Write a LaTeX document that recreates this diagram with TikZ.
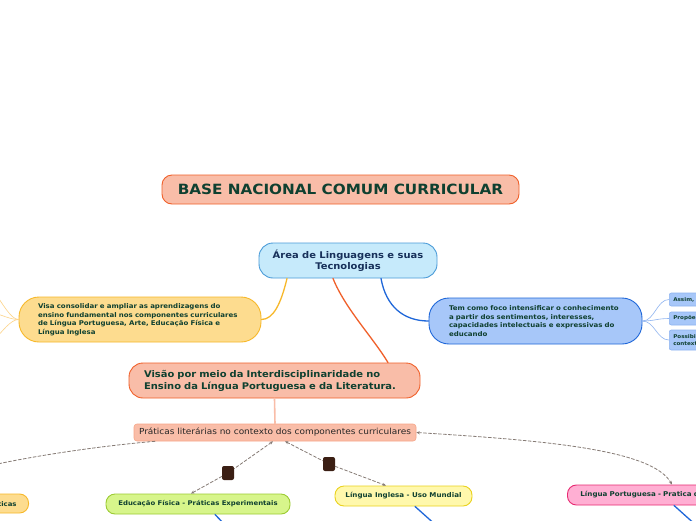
\documentclass[tikz,border=0pt]{standalone}
\usepackage{fontspec}
\setmainfont{DejaVu Sans}[FakeStretch=1.08]
\usetikzlibrary{arrows.meta,calc}

\definecolor{deep}{HTML}{0F4030}
\definecolor{navy}{HTML}{17305A}
\definecolor{salmonfill}{HTML}{F9BDA8}
\definecolor{salmonline}{HTML}{F0602A}
\definecolor{skyfill}{HTML}{C6EAFB}
\definecolor{skyline}{HTML}{4A9BD8}
\definecolor{goldfill}{HTML}{FDDC8F}
\definecolor{goldline}{HTML}{F7B82A}
\definecolor{goldtwig}{HTML}{FDD48A}
\definecolor{bluefill}{HTML}{A7C7F9}
\definecolor{blueline}{HTML}{1F67D9}
\definecolor{bluetwig}{HTML}{8FB4F0}
\definecolor{limefill}{HTML}{D7F58B}
\definecolor{limeline}{HTML}{9CCB33}
\definecolor{lemonfill}{HTML}{FFF8AC}
\definecolor{lemonline}{HTML}{EAD21E}
\definecolor{pinkfill}{HTML}{FFAFD3}
\definecolor{pinkline}{HTML}{E82A72}
\definecolor{linkgray}{HTML}{857A74}
\definecolor{knot}{HTML}{3B1F14}

\begin{document}
\begin{tikzpicture}[x=1pt,y=-1pt,>={Stealth[length=3.5pt,width=3pt]},line cap=round,line join=round,
  pill/.style={draw,line width=0.9pt,text=deep,inner sep=2pt},
  leaf/.style={pill,minimum height=20pt,rounded corners=9pt,font=\fontsize{6.4}{8}\selectfont\bfseries},
  tip/.style={draw=bluetwig,fill=bluefill,line width=0.6pt,rounded corners=2pt,text=deep,
    anchor=west,align=left,text width=40pt,inner xsep=4pt,font=\fontsize{5.2}{7}\selectfont\bfseries},
  branch/.style={line width=1.3pt},
  twig/.style={line width=0.6pt},
  link/.style={draw=linkgray,line width=0.8pt,dash pattern=on 3pt off 2pt},
  knotbox/.style={fill=knot,minimum width=12pt,minimum height=14pt,inner sep=0pt,rounded corners=2pt}]
\useasboundingbox[fill=white] (0,0) rectangle (696,520);

% main nodes
\node[pill,fill=salmonfill,draw=salmonline,minimum width=357pt,minimum height=29pt,rounded corners=10pt,
  font=\fontsize{14.1}{17}\selectfont\bfseries] (base) at (340.5,189.5) {BASE NACIONAL COMUM CURRICULAR};
\node[pill,fill=skyfill,draw=skyline,text=navy,minimum width=178pt,minimum height=35pt,rounded corners=14pt,
  align=center,font=\fontsize{9.2}{11.5}\selectfont\bfseries] (area) at (348,260.5) {Área de Linguagens e suas\\Tecnologias};
\node[pill,fill=goldfill,draw=goldline,minimum width=242pt,minimum height=45pt,rounded corners=20pt,
  text width=204pt,align=left,font=\fontsize{6.5}{8.5}\selectfont\bfseries] (visa) at (140,319.5)
  {Visa consolidar e ampliar as aprendizagens do\\ensino fundamental nos componentes curriculares\\de Língua Portuguesa, Arte, Educação Física e\\Língua Inglesa};
\node[pill,fill=bluefill,draw=blueline,minimum width=213pt,minimum height=46pt,rounded corners=20pt,
  text width=173pt,align=left,font=\fontsize{6.5}{8.7}\selectfont\bfseries] (foco) at (535.5,321)
  {Tem como foco intensificar o conhecimento\\a partir dos sentimentos, interesses,\\capacidades intelectuais e expressivas do\\educando};
\node[pill,fill=salmonfill,draw=salmonline,minimum width=291pt,minimum height=35pt,rounded corners=14pt,
  text width=261pt,align=left,font=\fontsize{9.2}{12}\selectfont\bfseries] (visao) at (274.5,380.5)
  {Visão por meio da Interdisciplinaridade no\\Ensino da Língua Portuguesa e da Literatura.};
\node[draw=salmonfill!75!salmonline,fill=salmonfill,line width=0.6pt,minimum width=282pt,minimum height=17pt,
  rounded corners=3pt,inner sep=1pt,text=black!85,font=\fontsize{8.3}{9}\selectfont] (pratlit) at (275,432.5)
  {Práticas literárias no contexto dos componentes curriculares};

% small side nodes
\node[tip,minimum height=13pt] (assim) at (669,299.5) {Assim,};
\node[tip,minimum height=13pt] (propoe) at (669,318.5) {Propõe};
\node[tip,minimum height=20pt] (possib) at (669,340) {Possibil\\context};

% lower nodes
\node[leaf,fill=goldfill,draw=goldline,anchor=east,inner xsep=12pt,minimum height=19pt] (artes) at (29,503.5) {Práticas};
\node[leaf,fill=limefill,draw=limeline,minimum width=184pt] (edu) at (198,504) {Educação Física - Práticas Experimentais};
\node[leaf,fill=lemonfill,draw=lemonline,minimum width=137pt,font=\fontsize{6.6}{8}\selectfont\bfseries] (ing) at (403.5,496) {Língua Inglesa - Uso Mundial};
\node[leaf,fill=pinkfill,draw=pinkline,anchor=west,minimum width=172pt,text width=146pt,align=left,
  font=\fontsize{6.6}{8}\selectfont\bfseries] (port) at (567,495) {Língua Portuguesa - Pratica d};

\node[knotbox] (sq1) at (228,473) {};
\node[knotbox] (sq2) at (329,464) {};

% free ends outside the page
\coordinate (l1) at (-6,292);
\coordinate (l2) at (-6,313);
\coordinate (l3) at (-6,340);
\coordinate (lp) at (-20,468);
\coordinate (e1) at (227,527);
\coordinate (i1) at (438,527);
\coordinate (p1) at (698,527);

% branches
\draw[branch,draw=goldline] ([xshift=-61pt]area.south) .. controls +(-6,25) and +(12,0) .. (visa.east);
\draw[branch,draw=salmonline] ([xshift=-15pt]area.south) .. controls +(12,30) and +(-15,-25) .. ([xshift=113.5pt]visao.north);
\draw[branch,draw=blueline] ([xshift=33pt]area.south) .. controls +(5,28) and +(-25,0) .. (foco.west);
\draw[line width=1.6pt,draw=salmonfill] (visao.south) -- (pratlit.north);

\draw[twig,draw=goldtwig] (visa.west) .. controls +(-8,0) and +(8,10) .. (l1);
\draw[twig,draw=goldtwig] (visa.west) .. controls +(-8,0) and +(8,2) .. (l2);
\draw[twig,draw=goldtwig] (visa.west) .. controls +(-8,0) and +(8,-8) .. (l3);
\draw[twig,draw=bluetwig] (foco.east) .. controls +(12,0) and +(-12,0) .. (assim.west);
\draw[twig,draw=bluetwig] (foco.east) .. controls +(12,0) and +(-12,0) .. (propoe.west);
\draw[twig,draw=bluetwig] (foco.east) .. controls +(12,0) and +(-12,0) .. (possib.west);

% dashed links
\draw[link,<-] ([xshift=-2pt]pratlit.south) -- (sq1);
\draw[link,->] (sq1) -- ([xshift=-7pt]edu.north);
\draw[link,<-] ([xshift=10pt]pratlit.south) -- (sq2);
\draw[link,->] (sq2) -- ([xshift=-17.5pt]ing.north);
\draw[link,<->] (pratlit.east) .. controls +(130,8) and +(-20,-35) .. ([xshift=105pt]port.north west);
\draw[link] ([xshift=-120pt]pratlit.south) .. controls +(-60,5) and +(40,-10) .. (lp);

% stubs below
\draw[branch,draw=blueline] ([xshift=17pt]edu.south) -- (e1);
\draw[branch,draw=blueline] ([xshift=11.5pt]ing.south) -- (i1);
\draw[branch,draw=blueline] ([xshift=107pt]port.south west) -- (p1);
\end{tikzpicture}
\end{document}
